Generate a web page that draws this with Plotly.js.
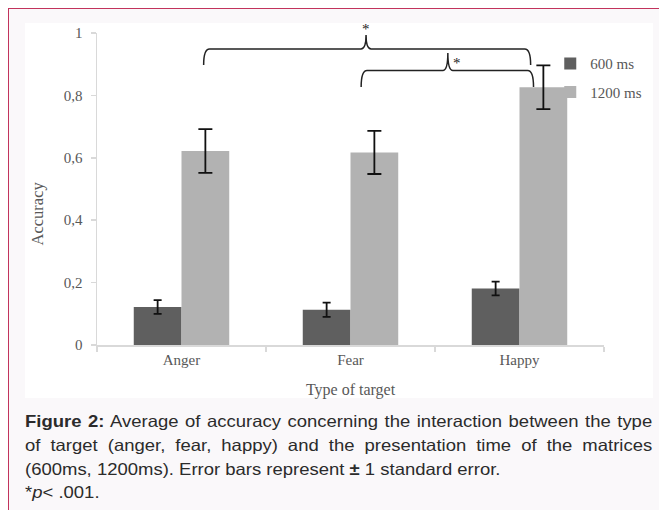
<!DOCTYPE html>
<html>
<head>
<meta charset="utf-8">
<script src="https://cdn.plot.ly/plotly-3.0.1.min.js"></script>
<style>
  html, body { margin: 0; padding: 0; width: 659px; height: 510px; overflow: hidden; background: #ffffff; }
  #panel { position: absolute; left: 8px; top: 8px; width: 700px; height: 600px;
           border-left: 1.5px solid #c2335c; border-top: 1.5px solid #c2335c; background: #faf8fa; }
  #white { position: absolute; left: 25px; top: 23px; width: 628px; height: 375px; background: #ffffff; }
  #chart { position: absolute; left: 0; top: 0; width: 659px; height: 510px; }
  #caption { position: absolute; left: 25px; top: 410px; width: 560px;
             font-family: "Liberation Sans", Arial, sans-serif; font-size: 16.5px; line-height: 23.8px;
             color: #2b2b2b; transform: scaleX(1.12); transform-origin: 0 0; }
  #caption .j { text-align: justify; text-align-last: justify; white-space: nowrap; }
  #caption .l { text-align: left; white-space: nowrap; }
</style>
</head>
<body>
<div id="panel"></div>
<div id="white"></div>
<div id="chart"></div>
<div id="caption">
  <div class="j"><b>Figure 2:</b> Average of accuracy concerning the interaction between the type</div>
  <div class="j">of target (anger, fear, happy) and the presentation time of the matrices</div>
  <div class="l">(600ms, 1200ms). Error bars represent <b>±</b> 1 standard error.</div>
  <div class="l">*<i>p</i>&lt; .001.</div>
</div>
<script>
// ---- data ----
const categories = ['Anger', 'Fear', 'Happy'];
const seriesNames = ['600 ms', '1200 ms'];
const acc600  = [0.122, 0.113, 0.181];
const se600   = [0.022, 0.023, 0.022];
const acc1200 = [0.622, 0.617, 0.826];
const se1200  = [0.070, 0.069, 0.070];
const yTickVals = [0, 0.2, 0.4, 0.6, 0.8, 1];
const xTitle = 'Type of target';
const yTitle = 'Accuracy';
const sigMark = '*';

// ---- styling ----
const serif = '"Liberation Serif", "Times New Roman", serif';
const textGray = '#585858';
const axisGray = '#d9d9d9';

const traces = [
  {
    type: 'bar', name: seriesNames[0], x: categories, y: acc600,
    marker: { color: '#5f5f5f' }, legendgroup: 'g1',
    error_y: { type: 'data', array: se600, visible: true, color: '#111111', thickness: 1.8, width: 4 },
    hoverinfo: 'x+y'
  },
  {
    type: 'bar', name: seriesNames[1], x: categories, y: acc1200,
    marker: { color: '#b2b2b2' }, legendgroup: 'g2',
    error_y: { type: 'data', array: se1200, visible: true, color: '#111111', thickness: 1.8, width: 7 },
    hoverinfo: 'x+y'
  }
];

// brace geometry (category-index x, accuracy-scale y)
function bracePath(x0, x1, xp, yEnd, yLine, yPeak) {
  const dx = 0.035, dxp = 0.03;
  return 'M' + x0 + ',' + yEnd +
         ' Q' + x0 + ',' + yLine + ' ' + (x0 + dx) + ',' + yLine +
         ' L' + (xp - dxp) + ',' + yLine +
         ' Q' + xp + ',' + yLine + ' ' + xp + ',' + yPeak +
         ' Q' + xp + ',' + yLine + ' ' + (xp + dxp) + ',' + yLine +
         ' L' + (x1 - dx) + ',' + yLine +
         ' Q' + x1 + ',' + yLine + ' ' + x1 + ',' + yEnd;
}
const braces = [
  bracePath(0.131, 2.066, 1.092, 0.8975, 0.949, 0.9936),
  bracePath(1.063, 2.083, 1.576, 0.827, 0.880, 0.936)
];

const layout = {
  width: 659, height: 510,
  margin: { l: 97, r: 47, t: 33, b: 165, pad: 0 },
  paper_bgcolor: 'rgba(0,0,0,0)', plot_bgcolor: 'rgba(0,0,0,0)',
  separators: ',.',
  barmode: 'group', bargap: 0.435, bargroupgap: 0,
  showlegend: true,
  legend: {
    x: 0.894, y: 0.954, xanchor: 'left', yanchor: 'top',
    bgcolor: 'rgba(0,0,0,0)', borderwidth: 0,
    traceorder: 'grouped', tracegroupgap: 6,
    font: { family: serif, size: 15, color: textGray }
  },
  xaxis: {
    type: 'category', range: [-0.5, 2.5], fixedrange: true,
    showline: true, linecolor: axisGray, linewidth: 1.5,
    ticks: 'outside', tickson: 'boundaries', ticklen: 5, tickcolor: axisGray, tickwidth: 1.5,
    showgrid: false, zeroline: false,
    tickfont: { family: serif, size: 15, color: textGray },
    title: { text: xTitle, font: { family: serif, size: 16, color: textGray }, standoff: 17 },
    automargin: false
  },
  yaxis: {
    range: [0, 1], fixedrange: true,
    tickmode: 'array', tickvals: yTickVals,
    showline: true, linecolor: axisGray, linewidth: 1.5,
    ticks: 'outside', ticklen: 5, tickcolor: axisGray, tickwidth: 1.5,
    ticklabelstandoff: 5,
    showgrid: false, zeroline: false,
    tickfont: { family: serif, size: 15, color: textGray },
    automargin: false
  },
  shapes: braces.map(p => ({
    type: 'path', xref: 'x', yref: 'y', path: p,
    line: { color: '#222222', width: 1.5 }
  })),
  annotations: [
    { xref: 'paper', yref: 'paper', x: -0.1175, y: 0.423, text: yTitle, textangle: -90,
      xanchor: 'center', yanchor: 'middle',
      showarrow: false, font: { family: serif, size: 16.5, color: textGray } },
    { xref: 'x', yref: 'paper', x: 1.092, y: 1.012, text: sigMark, showarrow: false,
      xanchor: 'center', yanchor: 'middle', font: { family: serif, size: 15, color: '#222222' } },
    { xref: 'x', yref: 'y', x: 1.632, y: 0.905, text: sigMark, showarrow: false,
      xanchor: 'center', yanchor: 'middle', font: { family: serif, size: 15, color: '#222222' } }
  ]
};

Plotly.newPlot('chart', traces, layout, { displayModeBar: false, staticPlot: true });
</script>
</body>
</html>
